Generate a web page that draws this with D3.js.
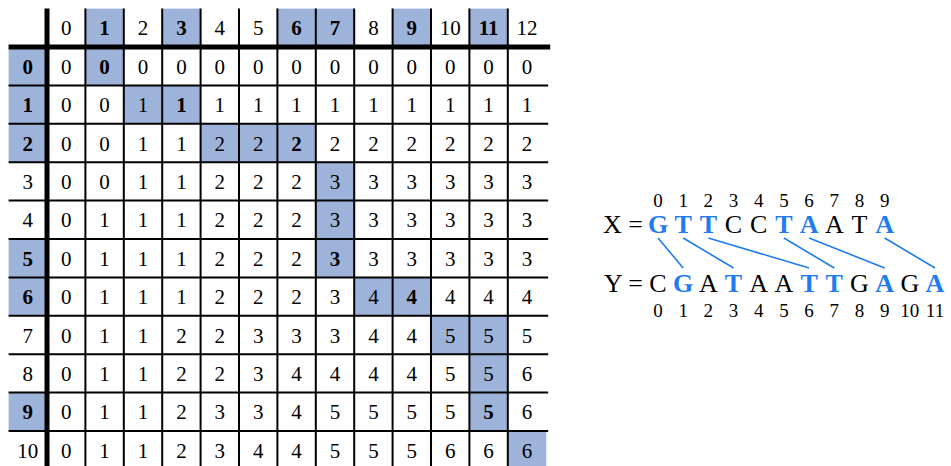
<!DOCTYPE html>
<html><head><meta charset="utf-8">
<script src="https://cdn.jsdelivr.net/npm/d3@7"></script>
<style>body{margin:0;background:#fff}svg{display:block}</style>
</head><body>
<svg id="c" width="951" height="466"></svg>
<script>
// ---- data ----
const colHeaders = [0,1,2,3,4,5,6,7,8,9,10,11,12];
const rowHeaders = [0,1,2,3,4,5,6,7,8,9,10];
const lcsTable = [
  [0,0,0,0,0,0,0,0,0,0,0,0,0],
  [0,0,1,1,1,1,1,1,1,1,1,1,1],
  [0,0,1,1,2,2,2,2,2,2,2,2,2],
  [0,0,1,1,2,2,2,3,3,3,3,3,3],
  [0,1,1,1,2,2,2,3,3,3,3,3,3],
  [0,1,1,1,2,2,2,3,3,3,3,3,3],
  [0,1,1,1,2,2,2,3,4,4,4,4,4],
  [0,1,1,2,2,3,3,3,4,4,5,5,5],
  [0,1,1,2,2,3,4,4,4,4,5,5,6],
  [0,1,1,2,3,3,4,5,5,5,5,5,6],
  [0,1,1,2,3,4,4,5,5,5,6,6,6]
];
const highlightCols = [1,3,6,7,9,11];
const highlightRows = [0,1,2,5,6,9];
const pathCells = [[0,1],[1,2],[1,3],[2,4],[2,5],[2,6],[3,7],[4,7],[5,7],[6,8],[6,9],[7,10],[7,11],[8,11],[9,11],[10,12]];
const matchPairs = [[0,1],[1,3],[2,6],[5,7],[6,9],[9,11]]; // [X index, Y index]
const seqX = ["G","T","T","C","C","T","A","A","T","A"];
const seqY = ["C","G","A","T","A","A","T","T","G","A","G","A"];

// ---- style ----
const BLUE_FILL = "#9db3da";
const BLUE_TEXT = "#1f7cf0";
const FONT = "'Liberation Serif', serif";
const cell = 38.4, x0 = 8.6, y0 = 8.6;

const svg = d3.select("#c");
const cols = ["h", ...colHeaders];
const rows = ["h", ...rowHeaders];
const x = d3.scaleBand().domain(cols).range([x0, x0 + cols.length * cell]);
const y = d3.scaleBand().domain(rows).range([y0, y0 + rows.length * cell]);
const bw = x.bandwidth(), bh = y.bandwidth();

const isBoldCell = (r,c) => matchPairs.some(p => p[0]===r && p[1]===c);

// fills
const fills = [];
highlightCols.forEach(c => fills.push({r:"h", c}));
highlightRows.forEach(r => fills.push({r, c:"h"}));
pathCells.forEach(([r,c]) => fills.push({r, c}));
svg.append("g").selectAll("rect").data(fills).join("rect")
  .attr("x", d => x(d.c)).attr("y", d => y(d.r))
  .attr("width", bw).attr("height", bh).attr("fill", BLUE_FILL);

// texts
const texts = [];
colHeaders.forEach(c => texts.push({r:"h", c, t:c, b: highlightCols.includes(c)}));
rowHeaders.forEach(r => texts.push({r, c:"h", t:r, b: highlightRows.includes(r)}));
lcsTable.forEach((row, r) => row.forEach((v, c) => texts.push({r, c, t:v, b:isBoldCell(r,c)})));
svg.append("g").selectAll("text").data(texts).join("text")
  .attr("x", d => x(d.c) + bw/2)
  .attr("y", d => y(d.r) + bh/2 + 7.5)
  .attr("text-anchor", "middle")
  .attr("font-family", FONT).attr("font-size", 21)
  .attr("font-weight", d => d.b ? "bold" : "normal")
  .attr("fill", "#000")
  .text(d => d.t);

// thin grid lines
const right = x0 + cols.length * cell + 2;
const bottom = 470;
const grid = svg.append("g").attr("stroke", "#000").attr("stroke-width", 2);
colHeaders.slice(1).forEach(c => grid.append("line")
  .attr("x1", x(c)).attr("x2", x(c)).attr("y1", y0).attr("y2", bottom));
rowHeaders.slice(1).forEach(r => grid.append("line")
  .attr("x1", x0).attr("x2", right).attr("y1", y(r)).attr("y2", y(r)));
// thick lines
svg.append("line").attr("x1", x(0)).attr("x2", x(0)).attr("y1", y0).attr("y2", bottom)
  .attr("stroke", "#000").attr("stroke-width", 5);
svg.append("line").attr("x1", x0).attr("x2", right + 2).attr("y1", y(0)).attr("y2", y(0))
  .attr("stroke", "#000").attr("stroke-width", 5);

// ---- sequences ----
const sx = d3.scaleLinear().domain([0, 11]).range([658, 935]);
const yIdxX = 207, yX = 233, yY = 292, yIdxY = 317;
const matchedX = matchPairs.map(p => p[0]);
const matchedY = matchPairs.map(p => p[1]);
const seq = svg.append("g").attr("font-family", FONT);

seq.append("text").attr("x", 643).attr("y", yX).attr("text-anchor", "end")
  .attr("font-size", 26).text("X =");
seq.append("text").attr("x", 643).attr("y", yY).attr("text-anchor", "end")
  .attr("font-size", 26).text("Y =");

seq.append("g").selectAll("text").data(seqX).join("text")
  .attr("x", (d,i) => sx(i)).attr("y", yX).attr("text-anchor", "middle")
  .attr("font-size", 26)
  .attr("font-weight", (d,i) => matchedX.includes(i) ? "bold" : "normal")
  .attr("fill", (d,i) => matchedX.includes(i) ? BLUE_TEXT : "#000")
  .text(d => d);
seq.append("g").selectAll("text").data(seqY).join("text")
  .attr("x", (d,i) => sx(i)).attr("y", yY).attr("text-anchor", "middle")
  .attr("font-size", 26)
  .attr("font-weight", (d,i) => matchedY.includes(i) ? "bold" : "normal")
  .attr("fill", (d,i) => matchedY.includes(i) ? BLUE_TEXT : "#000")
  .text(d => d);
seq.append("g").selectAll("text").data(seqX).join("text")
  .attr("x", (d,i) => sx(i)).attr("y", yIdxX).attr("text-anchor", "middle")
  .attr("font-size", 19).text((d,i) => i);
seq.append("g").selectAll("text").data(seqY).join("text")
  .attr("x", (d,i) => sx(i)).attr("y", yIdxY).attr("text-anchor", "middle")
  .attr("font-size", 19).text((d,i) => i);

seq.append("g").selectAll("line").data(matchPairs).join("line")
  .attr("x1", d => sx(d[0])).attr("y1", 238)
  .attr("x2", d => sx(d[1])).attr("y2", 268)
  .attr("stroke", BLUE_TEXT).attr("stroke-width", 1.6);
</script>
</body></html>
